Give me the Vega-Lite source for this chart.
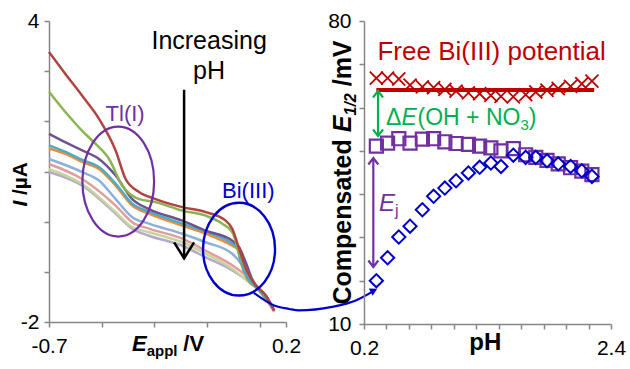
{
  "$schema": "https://vega.github.io/schema/vega-lite/v6.json",
  "background": "white",
  "padding": {"left": 9, "top": 10, "right": 0, "bottom": 0},
  "bounds": "flush",
  "spacing": 78,
  "config": {
    "font": "Liberation Sans",
    "view": {"stroke": null},
    "axis": {
      "domainColor": "#868686", "tickColor": "#868686", "domainWidth": 1.5, "tickWidth": 1.5,
      "tickSize": 5, "labelFont": "Liberation Sans", "labelFontSize": 21, "labelColor": "black",
      "grid": false, "labelFlush": false, "labelOverlap": false, "labelBound": false
    },
    "text": {"font": "Liberation Sans"}
  },
  "datasets": {
    "curves": [
      {"s":"s9","E":-0.700,"I":0.99},{"s":"s9","E":-0.574,"I":0.72},{"s":"s9","E":-0.447,"I":0.16},{"s":"s9","E":-0.384,"I":-0.14},{"s":"s9","E":-0.320,"I":-0.28},{"s":"s9","E":-0.194,"I":-0.48},{"s":"s9","E":-0.105,"I":-0.71},{"s":"s9","E":-0.004,"I":-0.97},{"s":"s9","E":0.072,"I":-1.24},{"s":"s9","E":0.123,"I":-1.47},{"s":"s9","E":0.155,"I":-1.80},
      {"s":"s8","E":-0.700,"I":1.05},{"s":"s8","E":-0.574,"I":0.75},{"s":"s8","E":-0.447,"I":0.19},{"s":"s8","E":-0.384,"I":-0.11},{"s":"s8","E":-0.320,"I":-0.21},{"s":"s8","E":-0.194,"I":-0.41},{"s":"s8","E":-0.105,"I":-0.64},{"s":"s8","E":-0.004,"I":-0.94},{"s":"s8","E":0.060,"I":-1.21},{"s":"s8","E":0.100,"I":-1.38},{"s":"s8","E":0.155,"I":-1.79},
      {"s":"s7","E":-0.700,"I":1.15},{"s":"s7","E":-0.574,"I":0.85},{"s":"s7","E":-0.447,"I":0.32},{"s":"s7","E":-0.384,"I":-0.01},{"s":"s7","E":-0.320,"I":-0.14},{"s":"s7","E":-0.194,"I":-0.34},{"s":"s7","E":-0.105,"I":-0.58},{"s":"s7","E":-0.004,"I":-0.87},{"s":"s7","E":0.047,"I":-1.07},{"s":"s7","E":0.085,"I":-1.27},{"s":"s7","E":0.123,"I":-1.50},{"s":"s7","E":0.155,"I":-1.78},
      {"s":"s6","E":-0.700,"I":1.25},{"s":"s6","E":-0.574,"I":0.99},{"s":"s6","E":-0.510,"I":0.82},{"s":"s6","E":-0.447,"I":0.45},{"s":"s6","E":-0.384,"I":0.09},{"s":"s6","E":-0.320,"I":-0.04},{"s":"s6","E":-0.194,"I":-0.24},{"s":"s6","E":-0.105,"I":-0.41},{"s":"s6","E":-0.004,"I":-0.64},{"s":"s6","E":0.034,"I":-0.87},{"s":"s6","E":0.072,"I":-1.21},{"s":"s6","E":0.123,"I":-1.50},{"s":"s6","E":0.155,"I":-1.77},
      {"s":"s5","E":-0.700,"I":1.46},{"s":"s5","E":-0.637,"I":1.35},{"s":"s5","E":-0.574,"I":1.19},{"s":"s5","E":-0.510,"I":1.05},{"s":"s5","E":-0.447,"I":0.72},{"s":"s5","E":-0.384,"I":0.32},{"s":"s5","E":-0.320,"I":0.16},{"s":"s5","E":-0.194,"I":-0.08},{"s":"s5","E":-0.105,"I":-0.24},{"s":"s5","E":-0.004,"I":-0.48},{"s":"s5","E":0.015,"I":-0.54},{"s":"s5","E":0.028,"I":-0.81},{"s":"s5","E":0.053,"I":-1.14},{"s":"s5","E":0.091,"I":-1.34},{"s":"s5","E":0.123,"I":-1.54},{"s":"s5","E":0.155,"I":-1.77},
      {"s":"s4","E":-0.700,"I":1.52},{"s":"s4","E":-0.637,"I":1.39},{"s":"s4","E":-0.574,"I":1.23},{"s":"s4","E":-0.510,"I":1.09},{"s":"s4","E":-0.447,"I":0.76},{"s":"s4","E":-0.384,"I":0.36},{"s":"s4","E":-0.320,"I":0.20},{"s":"s4","E":-0.194,"I":-0.04},{"s":"s4","E":-0.105,"I":-0.20},{"s":"s4","E":-0.004,"I":-0.44},{"s":"s4","E":0.015,"I":-0.52},{"s":"s4","E":0.028,"I":-0.78},{"s":"s4","E":0.053,"I":-1.12},{"s":"s4","E":0.091,"I":-1.32},{"s":"s4","E":0.123,"I":-1.52},{"s":"s4","E":0.155,"I":-1.77},
      {"s":"s3","E":-0.700,"I":1.75},{"s":"s3","E":-0.637,"I":1.58},{"s":"s3","E":-0.574,"I":1.42},{"s":"s3","E":-0.510,"I":1.25},{"s":"s3","E":-0.447,"I":0.92},{"s":"s3","E":-0.384,"I":0.45},{"s":"s3","E":-0.320,"I":0.25},{"s":"s3","E":-0.194,"I":0.02},{"s":"s3","E":-0.105,"I":-0.18},{"s":"s3","E":-0.004,"I":-0.38},{"s":"s3","E":0.022,"I":-0.51},{"s":"s3","E":0.047,"I":-0.81},{"s":"s3","E":0.072,"I":-1.15},{"s":"s3","E":0.100,"I":-1.35},{"s":"s3","E":0.123,"I":-1.47},{"s":"s3","E":0.155,"I":-1.77},
      {"s":"s2","E":-0.700,"I":2.59},{"s":"s2","E":-0.637,"I":2.18},{"s":"s2","E":-0.574,"I":1.81},{"s":"s2","E":-0.523,"I":1.55},{"s":"s2","E":-0.472,"I":1.25},{"s":"s2","E":-0.422,"I":0.72},{"s":"s2","E":-0.358,"I":0.45},{"s":"s2","E":-0.295,"I":0.39},{"s":"s2","E":-0.194,"I":0.22},{"s":"s2","E":-0.105,"I":0.12},{"s":"s2","E":-0.042,"I":-0.04},{"s":"s2","E":-0.004,"I":-0.21},{"s":"s2","E":0.022,"I":-0.61},{"s":"s2","E":0.047,"I":-0.94},{"s":"s2","E":0.085,"I":-1.27},{"s":"s2","E":0.123,"I":-1.47},{"s":"s2","E":0.155,"I":-1.77},
      {"s":"s1","E":-0.700,"I":3.38},{"s":"s1","E":-0.637,"I":2.94},{"s":"s1","E":-0.574,"I":2.51},{"s":"s1","E":-0.510,"I":2.05},{"s":"s1","E":-0.447,"I":1.42},{"s":"s1","E":-0.409,"I":0.85},{"s":"s1","E":-0.358,"I":0.59},{"s":"s1","E":-0.295,"I":0.45},{"s":"s1","E":-0.194,"I":0.29},{"s":"s1","E":-0.105,"I":0.19},{"s":"s1","E":-0.029,"I":0.02},{"s":"s1","E":-0.004,"I":-0.14},{"s":"s1","E":0.022,"I":-0.54},{"s":"s1","E":0.053,"I":-1.00},{"s":"s1","E":0.085,"I":-1.27},{"s":"s1","E":0.123,"I":-1.47},{"s":"s1","E":0.155,"I":-1.77}
    ],
    "free": [
      {"pH":0.31,"V":66.8},{"pH":0.41,"V":66.8},{"pH":0.51,"V":66.6},{"pH":0.61,"V":65.2},{"pH":0.72,"V":64.8},{"pH":0.82,"V":64.6},{"pH":0.92,"V":64.2},{"pH":1.02,"V":63.8},{"pH":1.13,"V":63.4},{"pH":1.23,"V":63.2},{"pH":1.33,"V":62.8},{"pH":1.42,"V":62.6},{"pH":1.53,"V":62.5},{"pH":1.64,"V":63.0},{"pH":1.73,"V":63.6},{"pH":1.83,"V":64.0},{"pH":1.93,"V":64.4},{"pH":2.04,"V":64.9},{"pH":2.14,"V":65.5},{"pH":2.23,"V":66.1}
    ],
    "squares": [
      {"pH":0.31,"V":51.1},{"pH":0.41,"V":51.8},{"pH":0.51,"V":52.8},{"pH":0.61,"V":51.8},{"pH":0.72,"V":52.7},{"pH":0.82,"V":52.8},{"pH":0.92,"V":52.1},{"pH":1.02,"V":51.7},{"pH":1.13,"V":51.5},{"pH":1.23,"V":51.1},{"pH":1.33,"V":50.7},{"pH":1.42,"V":50.0},{"pH":1.53,"V":50.5},{"pH":1.64,"V":49.1},{"pH":1.73,"V":48.5},{"pH":1.83,"V":47.8},{"pH":1.93,"V":47.0},{"pH":2.04,"V":46.1},{"pH":2.14,"V":45.3},{"pH":2.23,"V":44.5}
    ],
    "diamonds": [
      {"pH":0.31,"V":20.0},{"pH":0.41,"V":25.3},{"pH":0.51,"V":30.1},{"pH":0.61,"V":32.6},{"pH":0.72,"V":36.4},{"pH":0.82,"V":39.5},{"pH":0.92,"V":41.4},{"pH":1.02,"V":43.1},{"pH":1.13,"V":44.9},{"pH":1.23,"V":46.2},{"pH":1.33,"V":47.2},{"pH":1.42,"V":46.4},{"pH":1.53,"V":49.0},{"pH":1.64,"V":48.5},{"pH":1.73,"V":48.5},{"pH":1.83,"V":47.7},{"pH":1.93,"V":47.0},{"pH":2.04,"V":46.4},{"pH":2.14,"V":45.4},{"pH":2.23,"V":44.1}
    ]
  },
  "hconcat": [
    {
      "width": 237,
      "height": 301,
      "encoding": {
        "x": {"field": "E", "type": "quantitative", "title": null,
          "scale": {"domain": [-0.7, 0.2], "nice": false, "zero": false},
          "axis": {"values": [-0.7, -0.5, -0.3, -0.1, 0.1, 0.2], "labelPadding": 8,
            "labelExpr": "datum.value == -0.7 ? '-0.7' : datum.value == 0.2 ? '0.2' : ''"}},
        "y": {"field": "I", "type": "quantitative", "title": null,
          "scale": {"domain": [-2, 4], "nice": false, "zero": false},
          "axis": {"values": [-2, -1, 0, 1, 2, 3, 4], "labelPadding": 5,
            "labelExpr": "datum.value == 4 ? '4' : datum.value == -2 ? '-2' : ''"}}
      },
      "layer": [
        {
          "data": {"name": "curves"},
          "mark": {"type": "line", "strokeWidth": 2.5, "interpolate": "monotone"},
          "encoding": {
            "color": {"field": "s", "type": "nominal", "legend": null,
              "scale": {"domain": ["s1","s2","s3","s4","s5","s6","s7","s8","s9"],
                "range": ["#B04540","#8CB453","#6E548F","#4BACC6","#F08B36","#8DB0DA","#E29C9A","#C3D69B","#B4A7CB"]}}
          }
        },
        {
          "data": {"values": [{"E": -0.437, "I": 0.80}]},
          "mark": {"type": "point", "filled": false, "stroke": "#7030A0", "strokeWidth": 2.2, "opacity": 1, "size": 12100,
            "shape": "M 0.652 0 C 0.652 0.552 0.360 1 0 1 C -0.360 1 -0.652 0.552 -0.652 0 C -0.652 -0.552 -0.360 -1 0 -1 C 0.360 -1 0.652 -0.552 0.652 0 Z"}
        },
        {
          "data": {"values": [{"E": 0.0216, "I": -0.548}]},
          "mark": {"type": "point", "filled": false, "stroke": "#0000CC", "strokeWidth": 2.4, "opacity": 1, "size": 8593,
            "shape": "M 0.777 0 C 0.777 0.552 0.429 1 0 1 C -0.429 1 -0.777 0.552 -0.777 0 C -0.777 -0.552 -0.429 -1 0 -1 C 0.429 -1 0.777 -0.552 0.777 0 Z"}
        },
        {
          "data": {"values": [{"E": 0.078, "I": -1.42}, {"E": 0.155, "I": -1.67}, {"E": 0.212, "I": -1.74}, {"E": 0.249, "I": -1.77}, {"E": 0.375, "I": -1.70}, {"E": 0.465, "I": -1.572}, {"E": 0.530, "I": -1.39}]},
          "mark": {"type": "line", "color": "#0000CC", "strokeWidth": 2.2, "interpolate": "monotone"}
        },
        {
          "data": {"values": [{"E": 0.534, "I": -1.372}]},
          "mark": {"type": "point", "shape": "triangle-up", "filled": true, "color": "#0000CC", "opacity": 1, "size": 70, "angle": 63}
        },
        {
          "data": {"values": [{"E": -0.187, "I": 2.63, "I2": -0.73}]},
          "mark": {"type": "rule", "color": "black", "strokeWidth": 2.5},
          "encoding": {"y2": {"field": "I2"}}
        },
        {
          "data": {"values": [{"E": -0.187, "I": -0.73}]},
          "mark": {"type": "point", "filled": false, "stroke": "black", "strokeWidth": 2.5, "opacity": 1, "size": 400,
            "shape": "M -1 -1.6 L 0 0 L 1 -1.6"}
        },
        {
          "data": {"values": [{"E": -0.092, "I": 3.60, "t": "Increasing"}, {"E": -0.092, "I": 3.0, "t": "pH"}]},
          "mark": {"type": "text", "fontSize": 25, "align": "center", "baseline": "middle", "color": "black"},
          "encoding": {"text": {"field": "t"}}
        },
        {
          "data": {"values": [{"E": -0.411, "I": 2.15, "t": "Tl(I)"}]},
          "mark": {"type": "text", "fontSize": 22, "align": "center", "baseline": "middle", "color": "#7030A0"},
          "encoding": {"text": {"field": "t"}}
        },
        {
          "data": {"values": [{"E": 0.057, "I": 0.62, "t": "Bi(III)"}]},
          "mark": {"type": "text", "fontSize": 22, "align": "center", "baseline": "middle", "color": "#0000CC"},
          "encoding": {"text": {"field": "t"}}
        },
        {
          "data": {"values": [{"E": -0.385, "I": -2.574, "t": "E"}]},
          "mark": {"type": "text", "fontSize": 22, "fontWeight": "bold", "fontStyle": "italic", "align": "left", "baseline": "alphabetic", "color": "black"},
          "encoding": {"text": {"field": "t"}}
        },
        {
          "data": {"values": [{"E": -0.329, "I": -2.68, "t": "appl"}]},
          "mark": {"type": "text", "fontSize": 15, "fontWeight": "bold", "align": "left", "baseline": "alphabetic", "color": "black"},
          "encoding": {"text": {"field": "t"}}
        },
        {
          "data": {"values": [{"E": -0.190, "I": -2.574, "t": "/V"}]},
          "mark": {"type": "text", "fontSize": 22, "fontWeight": "bold", "align": "left", "baseline": "alphabetic", "color": "black"},
          "encoding": {"text": {"field": "t"}}
        },
        {
          "data": {"values": [{"E": -0.7836, "I": 0.30, "t": "I"}]},
          "mark": {"type": "text", "fontSize": 21, "fontWeight": "bold", "fontStyle": "italic", "angle": 270, "align": "left", "baseline": "alphabetic", "color": "black"},
          "encoding": {"text": {"field": "t"}}
        },
        {
          "data": {"values": [{"E": -0.7836, "I": 0.53, "t": "/µA"}]},
          "mark": {"type": "text", "fontSize": 21, "fontWeight": "bold", "angle": 270, "align": "left", "baseline": "alphabetic", "color": "black"},
          "encoding": {"text": {"field": "t"}}
        }
      ]
    },
    {
      "width": 247,
      "height": 303,
      "encoding": {
        "x": {"field": "pH", "type": "quantitative", "title": null,
          "scale": {"domain": [0.2, 2.4], "nice": false, "zero": false},
          "axis": {"values": [0.2, 0.4, 0.6, 0.8, 1.0, 1.2, 1.4, 1.6, 1.8, 2.0, 2.2, 2.4], "labelPadding": 8,
            "labelExpr": "datum.value == 0.2 ? '0.2' : datum.value == 2.4 ? '2.4' : ''"}},
        "y": {"field": "V", "type": "quantitative", "title": null,
          "scale": {"domain": [10, 80], "nice": false, "zero": false},
          "axis": {"values": [10, 20, 30, 40, 50, 60, 70, 80], "labelPadding": 8,
            "labelExpr": "datum.value == 80 ? '80' : datum.value == 10 ? '10' : ''"}}
      },
      "layer": [
        {
          "data": {"values": [{"pH": 0.31, "V": 64.06, "pH2": 2.25}]},
          "mark": {"type": "rule", "color": "#C00000", "strokeWidth": 4},
          "encoding": {"x2": {"field": "pH2"}}
        },
        {
          "data": {"name": "free"},
          "mark": {"type": "point", "filled": false, "stroke": "#C00000", "strokeWidth": 1.8, "opacity": 1, "size": 170,
            "shape": "M -1 -1 L 1 1 M -1 1 L 1 -1"}
        },
        {
          "data": {"name": "squares"},
          "mark": {"type": "point", "shape": "square", "filled": false, "stroke": "#7030A0", "strokeWidth": 2.2, "opacity": 1, "size": 170}
        },
        {
          "data": {"name": "diamonds"},
          "mark": {"type": "point", "shape": "diamond", "filled": false, "stroke": "#0000CC", "strokeWidth": 2, "opacity": 1, "size": 175}
        },
        {
          "data": {"values": [{"pH": 0.325, "V": 63.83, "V2": 53.43}]},
          "mark": {"type": "rule", "color": "#00B050", "strokeWidth": 2.2},
          "encoding": {"y2": {"field": "V2"}}
        },
        {
          "data": {"values": [{"pH": 0.325, "V": 63.83}]},
          "mark": {"type": "point", "filled": false, "stroke": "#00B050", "strokeWidth": 2.2, "opacity": 1, "size": 100, "shape": "M -1 1.3 L 0 0 L 1 1.3"}
        },
        {
          "data": {"values": [{"pH": 0.325, "V": 53.43}]},
          "mark": {"type": "point", "filled": false, "stroke": "#00B050", "strokeWidth": 2.2, "opacity": 1, "size": 100, "shape": "M -1 -1.3 L 0 0 L 1 -1.3"}
        },
        {
          "data": {"values": [{"pH": 0.283, "V": 48.35, "V2": 23.17}]},
          "mark": {"type": "rule", "color": "#7030A0", "strokeWidth": 2.2},
          "encoding": {"y2": {"field": "V2"}}
        },
        {
          "data": {"values": [{"pH": 0.283, "V": 48.35}]},
          "mark": {"type": "point", "filled": false, "stroke": "#7030A0", "strokeWidth": 2.2, "opacity": 1, "size": 100, "shape": "M -1 1.3 L 0 0 L 1 1.3"}
        },
        {
          "data": {"values": [{"pH": 0.283, "V": 23.17}]},
          "mark": {"type": "point", "filled": false, "stroke": "#7030A0", "strokeWidth": 2.2, "opacity": 1, "size": 100, "shape": "M -1 -1.3 L 0 0 L 1 -1.3"}
        },
        {
          "data": {"values": [{"pH": 0.32, "V": 71.1, "t": "Free Bi(III) potential"}]},
          "mark": {"type": "text", "fontSize": 26, "align": "left", "baseline": "alphabetic", "color": "#C00000"},
          "encoding": {"text": {"field": "t"}}
        },
        {
          "data": {"values": [{"pH": 0.396, "V": 55.97, "t": "Δ"}]},
          "mark": {"type": "text", "fontSize": 23, "align": "left", "baseline": "alphabetic", "color": "#00B050"},
          "encoding": {"text": {"field": "t"}}
        },
        {
          "data": {"values": [{"pH": 0.396, "V": 55.97, "t": "E"}]},
          "mark": {"type": "text", "fontSize": 23, "fontStyle": "italic", "align": "left", "baseline": "alphabetic", "color": "#00B050", "dx": 15.4},
          "encoding": {"text": {"field": "t"}}
        },
        {
          "data": {"values": [{"pH": 0.396, "V": 55.97, "t": "(OH + NO"}]},
          "mark": {"type": "text", "fontSize": 23, "align": "left", "baseline": "alphabetic", "color": "#00B050", "dx": 31.5},
          "encoding": {"text": {"field": "t"}}
        },
        {
          "data": {"values": [{"pH": 0.396, "V": 55.97, "t": "3"}]},
          "mark": {"type": "text", "fontSize": 15, "align": "left", "baseline": "alphabetic", "color": "#00B050", "dx": 134.4, "dy": 5},
          "encoding": {"text": {"field": "t"}}
        },
        {
          "data": {"values": [{"pH": 0.396, "V": 55.97, "t": ")"}]},
          "mark": {"type": "text", "fontSize": 23, "align": "left", "baseline": "alphabetic", "color": "#00B050", "dx": 142.7},
          "encoding": {"text": {"field": "t"}}
        },
        {
          "data": {"values": [{"pH": 0.3336, "V": 36.11, "t": "E"}]},
          "mark": {"type": "text", "fontSize": 24, "fontStyle": "italic", "align": "left", "baseline": "alphabetic", "color": "#7030A0"},
          "encoding": {"text": {"field": "t"}}
        },
        {
          "data": {"values": [{"pH": 0.3336, "V": 36.11, "t": "j"}]},
          "mark": {"type": "text", "fontSize": 16, "align": "left", "baseline": "alphabetic", "color": "#7030A0", "dx": 16, "dy": 5},
          "encoding": {"text": {"field": "t"}}
        },
        {
          "data": {"values": [{"pH": 1.28, "V": 3.99, "t": "pH"}]},
          "mark": {"type": "text", "fontSize": 24, "fontWeight": "bold", "align": "center", "baseline": "alphabetic", "color": "black"},
          "encoding": {"text": {"field": "t"}}
        },
        {
          "data": {"values": [{"pH": 0.0842, "V": 14.50, "t": "Compensated"}]},
          "mark": {"type": "text", "fontSize": 25, "fontWeight": "bold", "angle": 270, "align": "left", "baseline": "alphabetic", "color": "black"},
          "encoding": {"text": {"field": "t"}}
        },
        {
          "data": {"values": [{"pH": 0.0842, "V": 54.31, "t": "E"}]},
          "mark": {"type": "text", "fontSize": 25, "fontWeight": "bold", "fontStyle": "italic", "angle": 270, "align": "left", "baseline": "alphabetic", "color": "black"},
          "encoding": {"text": {"field": "t"}}
        },
        {
          "data": {"values": [{"pH": 0.1287, "V": 58.17, "t": "1/2"}]},
          "mark": {"type": "text", "fontSize": 16, "fontWeight": "bold", "fontStyle": "italic", "angle": 270, "align": "left", "baseline": "alphabetic", "color": "black"},
          "encoding": {"text": {"field": "t"}}
        },
        {
          "data": {"values": [{"pH": 0.0842, "V": 64.91, "t": "/mV"}]},
          "mark": {"type": "text", "fontSize": 25, "fontWeight": "bold", "angle": 270, "align": "left", "baseline": "alphabetic", "color": "black"},
          "encoding": {"text": {"field": "t"}}
        }
      ]
    }
  ]
}
